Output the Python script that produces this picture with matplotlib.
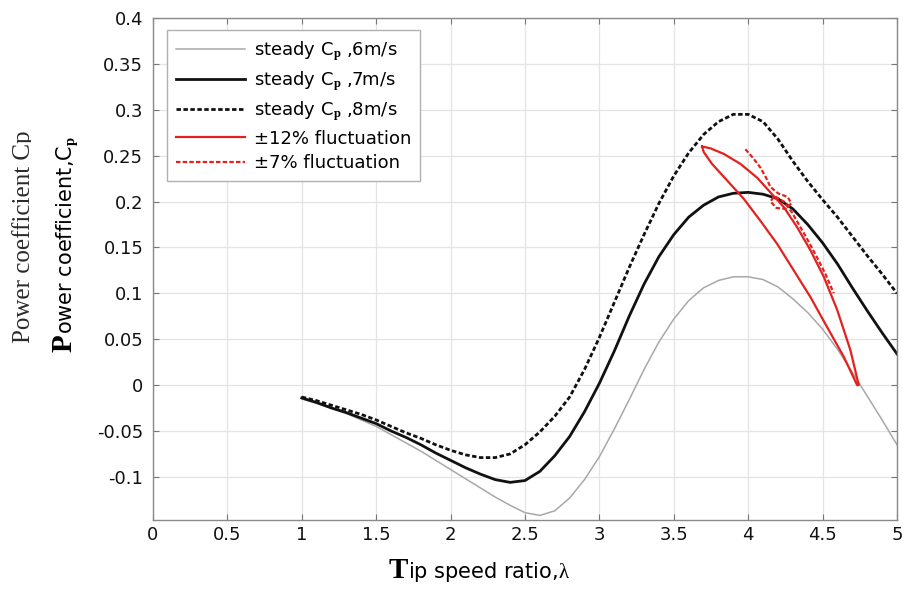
import matplotlib.pyplot as plt
from matplotlib.patches import Rectangle

plt.rcParams['font.family'] = ['DejaVu Sans']
plt.rcParams['mathtext.fontset'] = 'custom'
plt.rcParams['mathtext.rm'] = 'Liberation Serif'
plt.rcParams['mathtext.bf'] = 'Liberation Serif:bold'
plt.rcParams['mathtext.it'] = 'Liberation Serif:italic'

# tip speed ratio grid of the steady curves
tsr = [1.0, 1.1, 1.2, 1.3, 1.4, 1.5, 1.6, 1.7, 1.8, 1.9,
       2.0, 2.1, 2.2, 2.3, 2.4, 2.5, 2.6, 2.7, 2.8, 2.9,
       3.0, 3.1, 3.2, 3.3, 3.4, 3.5, 3.6, 3.7, 3.8, 3.9,
       4.0, 4.1, 4.2, 4.3, 4.4, 4.5, 4.6, 4.7, 4.8, 4.9, 5.0]

cp_6ms = [-0.015, -0.020, -0.025, -0.031, -0.038, -0.045, -0.054, -0.063, -0.072, -0.082,
          -0.092, -0.102, -0.112, -0.122, -0.131, -0.139, -0.142, -0.137, -0.123, -0.103,
          -0.078, -0.048, -0.016, 0.017, 0.047, 0.072, 0.092, 0.106, 0.114, 0.118,
          0.118, 0.115, 0.107, 0.094, 0.079, 0.061, 0.039, 0.014, -0.012, -0.038, -0.065]

cp_7ms = [-0.014, -0.019, -0.025, -0.030, -0.036, -0.042, -0.050, -0.057, -0.065, -0.074,
          -0.082, -0.090, -0.097, -0.103, -0.106, -0.104, -0.094, -0.077, -0.056, -0.029,
          0.002, 0.037, 0.075, 0.110, 0.140, 0.164, 0.183, 0.196, 0.205, 0.209,
          0.210, 0.208, 0.203, 0.192, 0.175, 0.155, 0.132, 0.106, 0.081, 0.057, 0.034]

cp_8ms = [-0.013, -0.017, -0.022, -0.027, -0.032, -0.038, -0.045, -0.052, -0.058, -0.065,
          -0.071, -0.076, -0.079, -0.079, -0.075, -0.065, -0.051, -0.034, -0.013, 0.017,
          0.052, 0.090, 0.128, 0.164, 0.198, 0.228, 0.253, 0.273, 0.287, 0.295,
          0.295, 0.287, 0.268, 0.244, 0.222, 0.202, 0.183, 0.162, 0.141, 0.121, 0.100]

# +-12% fluctuation: closed loop
fl12_tsr = [3.690, 3.746, 3.835, 3.948, 4.060, 4.149, 4.239, 4.329, 4.418, 4.508, 4.598, 4.687, 4.743,
            4.732, 4.642, 4.531, 4.418, 4.306, 4.194, 4.082, 3.970, 3.858, 3.757, 3.701, 3.690]
fl12_cp = [0.260, 0.258, 0.252, 0.241, 0.226, 0.210, 0.194, 0.172, 0.147, 0.118, 0.082, 0.038, 0.000,
           0.000, 0.031, 0.063, 0.096, 0.125, 0.154, 0.179, 0.203, 0.223, 0.241, 0.254, 0.260]

# +-7% fluctuation
fl7_tsr = [3.981, 4.030, 4.082, 4.120, 4.149, 4.200, 4.265, 4.290, 4.250, 4.190, 4.150, 4.175,
           4.240, 4.295, 4.351, 4.407, 4.463, 4.519, 4.575]
fl7_cp = [0.257, 0.248, 0.237, 0.226, 0.216, 0.209, 0.205, 0.198, 0.192, 0.193, 0.200, 0.206,
          0.200, 0.188, 0.172, 0.156, 0.139, 0.121, 0.100]

xticks = [0, 0.5, 1, 1.5, 2, 2.5, 3, 3.5, 4, 4.5, 5]
xticklabels = ['0', '0.5', '1', '1.5', '2', '2.5', '3', '3.5', '4', '4.5', '5']
yticks = [-0.1, -0.05, 0, 0.05, 0.1, 0.15, 0.2, 0.25, 0.3, 0.35, 0.4]
yticklabels = ['-0.1', '-0.05', '0', '0.05', '0.1', '0.15', '0.2', '0.25', '0.3', '0.35', '0.4']

W, H = 904, 590
fig = plt.figure(figsize=(W / 100, H / 100), dpi=100)
ax = fig.add_axes([153 / W, 1 - 520 / H, (897 - 153) / W, (520 - 18) / H])

red = '#e3211f'
ax.plot(tsr, cp_6ms, color='#a8a8a8', lw=1.1, label=r'steady C$_\mathbf{p}$ ,6m/s')
ax.plot(tsr, cp_7ms, color='#111111', lw=2.0, label=r'steady C$_\mathbf{p}$ ,7m/s')
ax.plot(tsr, cp_8ms, color='#111111', lw=2.0, ls=(0, (1.6, 0.9)), label=r'steady C$_\mathbf{p}$ ,8m/s')
ax.plot(fl12_tsr, fl12_cp, color=red, lw=1.6, label='±12% fluctuation')
ax.plot(fl7_tsr, fl7_cp, color=red, lw=1.6, ls=(0, (2, 1)), label='±7% fluctuation')

ax.set_xlim(0, 5)
ax.set_ylim(-0.147, 0.4)
ax.set_xticks(xticks, xticklabels)
ax.set_yticks(yticks, yticklabels)
ax.grid(True, color='#e4e4e4', lw=0.9)
ax.set_axisbelow(True)
ax.tick_params(direction='in', top=True, right=True, length=4, color='#777777',
               labelsize=13, labelcolor='#111111')
ax.tick_params(axis='y', pad=7)
ax.tick_params(axis='x', pad=4)
for s in ax.spines.values():
    s.set_color('#8a8a8a')
    s.set_linewidth(1.0)

leg = ax.legend(loc='upper left', bbox_to_anchor=(14 / 744, 1 - 12 / 502), borderaxespad=0,
                fontsize=13, handlelength=3.8, handletextpad=0.5, labelspacing=0.35,
                borderpad=0.5, fancybox=False, framealpha=1)
leg.get_frame().set_edgecolor('#b0b0b0')
leg.get_frame().set_linewidth(1.0)

r = fig.canvas.get_renderer()

# x label: serif bold T followed by the rest
tT = fig.text(389 / W, 1 - 578 / H, 'T', fontfamily='Liberation Serif', fontweight='bold',
              fontsize=21, ha='left', va='baseline')
wT = tT.get_window_extent(r).width
fig.text((389 + wT) / W, 1 - 578 / H, r'ip speed ratio,$\mathrm{\lambda}$', fontsize=15,
         ha='left', va='baseline')

# y label
tP = fig.text(72 / W, 1 - 352 / H, 'P', fontfamily='Liberation Serif', fontweight='bold',
              fontsize=21, rotation=90, rotation_mode='anchor', ha='left', va='baseline')
hP = tP.get_window_extent(r).height
fig.text(72 / W, (H - 352 + hP) / H, r'ower coefficient,C$_\mathbf{p}$', fontsize=15,
         rotation=90, rotation_mode='anchor', ha='left', va='baseline')

# faint leftover label at the left edge, its descenders cut off
fig.text(30 / W, 1 - 343 / H, 'Power coefficient Cp', fontfamily='Liberation Serif',
         fontsize=18, color='#2a2a2a', rotation=90, rotation_mode='anchor',
         ha='left', va='baseline', zorder=2)
fig.add_artist(Rectangle((31 / W, 0.3), 16 / W, 0.6, transform=fig.transFigure,
                         facecolor='white', edgecolor='none', zorder=2.5))

plt.savefig('out.png', dpi=100)
